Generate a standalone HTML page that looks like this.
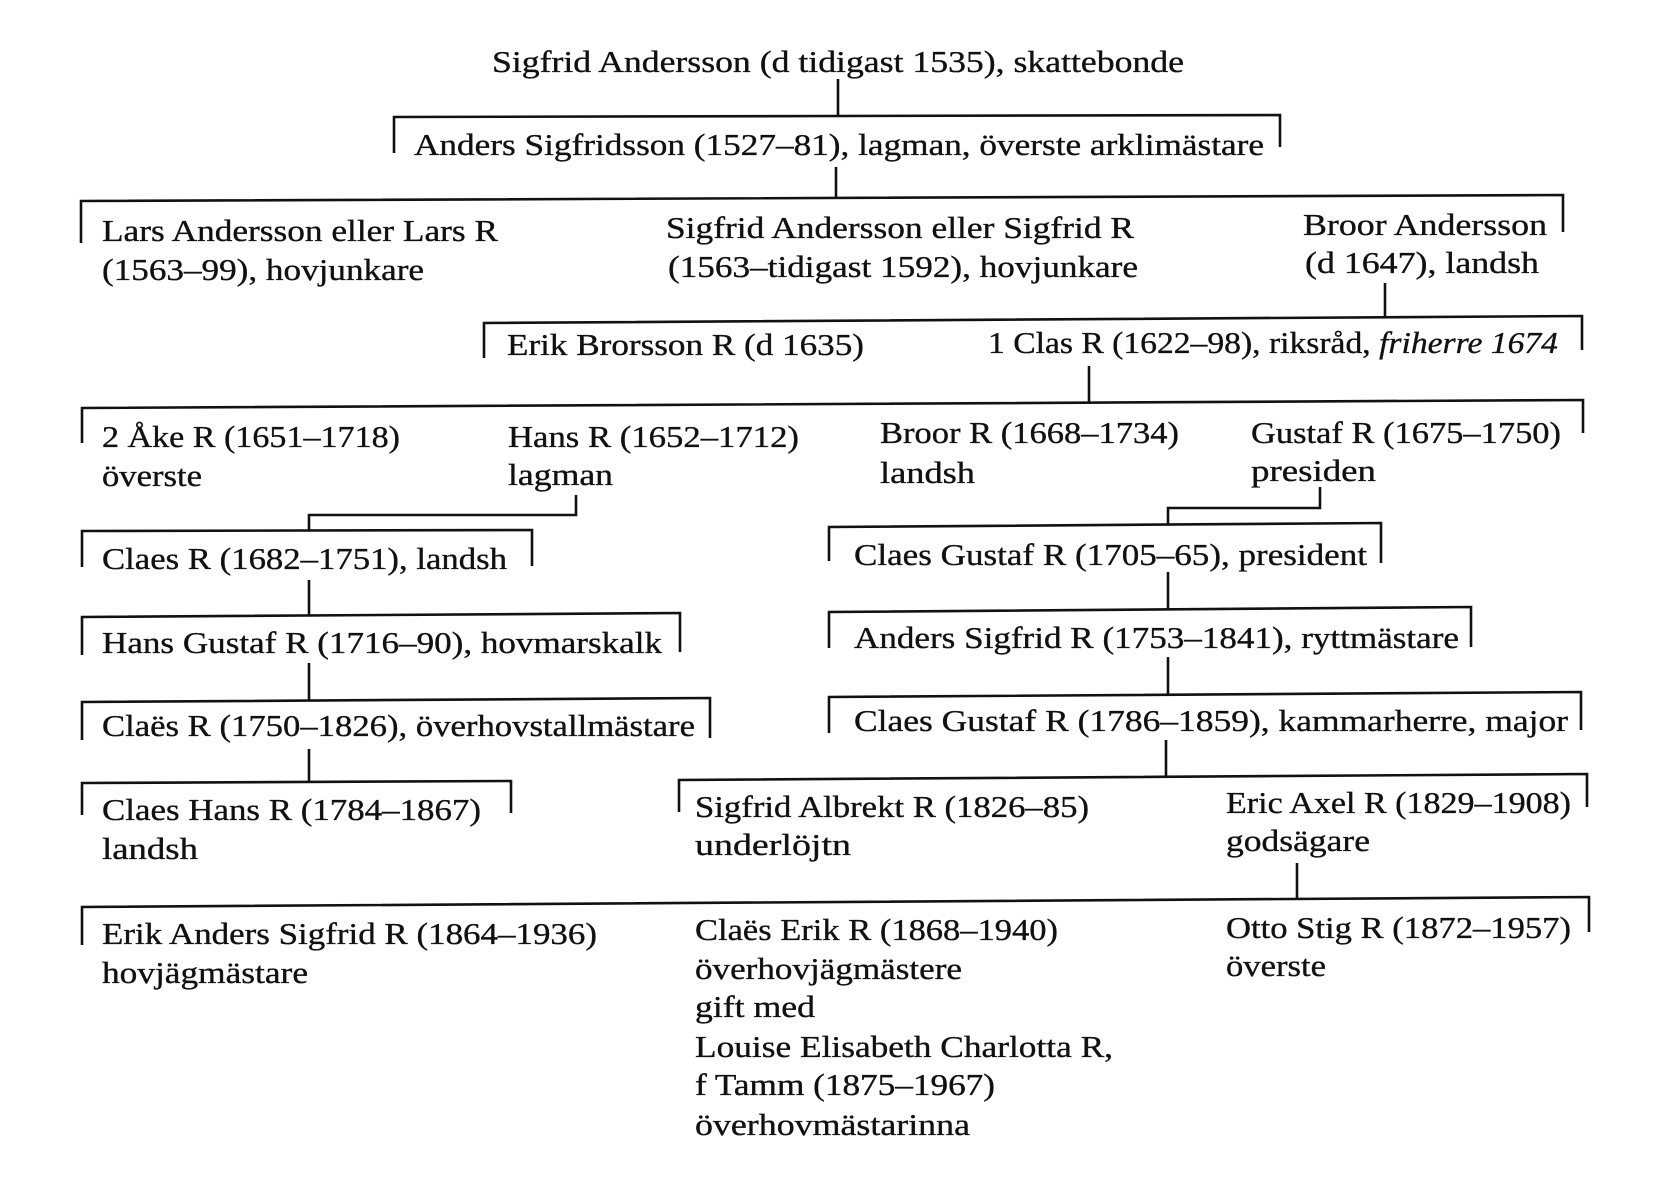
<!DOCTYPE html>
<html><head><meta charset="utf-8"><style>
html,body{margin:0;padding:0;background:#fff;}
svg{display:block;}
text{font-family:"Liberation Serif",serif;font-size:31px;fill:#111;stroke:#111;stroke-width:0.35;}
line,polyline{stroke:#111;stroke-width:2.6;fill:none;}
</style></head><body>
<svg width="1661" height="1193" viewBox="0 0 1661 1193" xmlns="http://www.w3.org/2000/svg">
<!-- gen 0 -->
<text x="492" y="72" textLength="692" lengthAdjust="spacingAndGlyphs">Sigfrid Andersson (d tidigast 1535), skattebonde</text>
<line x1="838" y1="79" x2="838" y2="116"/>
<polyline points="394,153 394,117 1280,115 1280,147"/>
<text x="414" y="155" textLength="850" lengthAdjust="spacingAndGlyphs">Anders Sigfridsson (1527–81), lagman, överste arklimästare</text>
<line x1="836" y1="167" x2="836" y2="199"/>
<polyline points="81,243 81,201 1563,195 1563,232"/>
<text x="102" y="241" textLength="396" lengthAdjust="spacingAndGlyphs">Lars Andersson eller Lars R</text>
<text x="102" y="280" textLength="322" lengthAdjust="spacingAndGlyphs">(1563–99), hovjunkare</text>
<text x="666" y="238" textLength="468" lengthAdjust="spacingAndGlyphs">Sigfrid Andersson eller Sigfrid R</text>
<text x="668" y="277" textLength="470" lengthAdjust="spacingAndGlyphs">(1563–tidigast 1592), hovjunkare</text>
<text x="1303" y="235" textLength="244" lengthAdjust="spacingAndGlyphs">Broor Andersson</text>
<text x="1305" y="273" textLength="234" lengthAdjust="spacingAndGlyphs">(d 1647), landsh</text>
<line x1="1385" y1="283" x2="1385" y2="318"/>
<polyline points="484,358 484,323 1582,316 1582,350"/>
<text x="507" y="355" textLength="357" lengthAdjust="spacingAndGlyphs">Erik Brorsson R (d 1635)</text>
<text x="988" y="353" textLength="570" lengthAdjust="spacingAndGlyphs">1 Clas R (1622–98), riksråd, <tspan font-style="italic">friherre 1674</tspan></text>
<line x1="1089" y1="366" x2="1089" y2="404"/>
<polyline points="82,443 82,408 1583,400 1583,433"/>
<text x="102" y="447" textLength="298" lengthAdjust="spacingAndGlyphs">2 Åke R (1651–1718)</text>
<text x="102" y="486" textLength="100" lengthAdjust="spacingAndGlyphs">överste</text>
<text x="508" y="447" textLength="291" lengthAdjust="spacingAndGlyphs">Hans R (1652–1712)</text>
<text x="508" y="485" textLength="105" lengthAdjust="spacingAndGlyphs">lagman</text>
<text x="880" y="443" textLength="299" lengthAdjust="spacingAndGlyphs">Broor R (1668–1734)</text>
<text x="880" y="483" textLength="95" lengthAdjust="spacingAndGlyphs">landsh</text>
<text x="1251" y="443" textLength="310" lengthAdjust="spacingAndGlyphs">Gustaf R (1675–1750)</text>
<text x="1251" y="481" textLength="125" lengthAdjust="spacingAndGlyphs">presiden</text>
<!-- left branch -->
<polyline points="576,495 576,515 309,515 309,530"/>
<polyline points="82,567 82,531 532,530 532,566"/>
<text x="102" y="569" textLength="405" lengthAdjust="spacingAndGlyphs">Claes R (1682–1751), landsh</text>
<line x1="309" y1="580" x2="309" y2="615"/>
<polyline points="82,655 82,617 680,613 680,652"/>
<text x="102" y="653" textLength="560" lengthAdjust="spacingAndGlyphs">Hans Gustaf R (1716–90), hovmarskalk</text>
<line x1="309" y1="663" x2="309" y2="700"/>
<polyline points="82,740 82,702 710,698 710,738"/>
<text x="102" y="736" textLength="593" lengthAdjust="spacingAndGlyphs">Claës R (1750–1826), överhovstallmästare</text>
<line x1="309" y1="749" x2="309" y2="783"/>
<polyline points="82,815 82,783 511,781 511,813"/>
<text x="102" y="820" textLength="379" lengthAdjust="spacingAndGlyphs">Claes Hans R (1784–1867)</text>
<text x="102" y="859" textLength="96" lengthAdjust="spacingAndGlyphs">landsh</text>
<!-- right branch -->
<polyline points="1320,487 1320,508 1168,508 1168,525"/>
<polyline points="829,561 829,527 1381,523 1381,563"/>
<text x="854" y="565" textLength="513" lengthAdjust="spacingAndGlyphs">Claes Gustaf R (1705–65), president</text>
<line x1="1168" y1="572" x2="1168" y2="609"/>
<polyline points="829,648 829,612 1471,607 1471,647"/>
<text x="854" y="648" textLength="605" lengthAdjust="spacingAndGlyphs">Anders Sigfrid R (1753–1841), ryttmästare</text>
<line x1="1168" y1="657" x2="1168" y2="695"/>
<polyline points="829,733 829,697 1581,692 1581,730"/>
<text x="854" y="731" textLength="714" lengthAdjust="spacingAndGlyphs">Claes Gustaf R (1786–1859), kammarherre, major</text>
<line x1="1166" y1="740" x2="1166" y2="777"/>
<polyline points="679,812 679,780 1587,774 1587,807"/>
<text x="695" y="817" textLength="394" lengthAdjust="spacingAndGlyphs">Sigfrid Albrekt R (1826–85)</text>
<text x="695" y="855" textLength="156" lengthAdjust="spacingAndGlyphs">underlöjtn</text>
<text x="1226" y="813" textLength="345" lengthAdjust="spacingAndGlyphs">Eric Axel R (1829–1908)</text>
<text x="1226" y="851" textLength="144" lengthAdjust="spacingAndGlyphs">godsägare</text>
<line x1="1297" y1="863" x2="1297" y2="900"/>
<polyline points="82,945 82,907 1589,897 1589,932"/>
<text x="102" y="944" textLength="495" lengthAdjust="spacingAndGlyphs">Erik Anders Sigfrid R (1864–1936)</text>
<text x="102" y="983" textLength="206" lengthAdjust="spacingAndGlyphs">hovjägmästare</text>
<text x="695" y="940" textLength="363" lengthAdjust="spacingAndGlyphs">Claës Erik R (1868–1940)</text>
<text x="695" y="979" textLength="267" lengthAdjust="spacingAndGlyphs">överhovjägmästere</text>
<text x="695" y="1017" textLength="120" lengthAdjust="spacingAndGlyphs">gift med</text>
<text x="695" y="1057" textLength="418" lengthAdjust="spacingAndGlyphs">Louise Elisabeth Charlotta R,</text>
<text x="695" y="1095" textLength="300" lengthAdjust="spacingAndGlyphs">f Tamm (1875–1967)</text>
<text x="695" y="1135" textLength="275" lengthAdjust="spacingAndGlyphs">överhovmästarinna</text>
<text x="1226" y="938" textLength="345" lengthAdjust="spacingAndGlyphs">Otto Stig R (1872–1957)</text>
<text x="1226" y="976" textLength="100" lengthAdjust="spacingAndGlyphs">överste</text>
</svg>
</body></html>
